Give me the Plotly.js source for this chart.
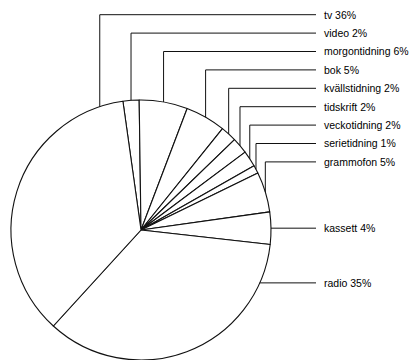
<!DOCTYPE html>
<html><head><meta charset="utf-8">
<script src="https://cdn.plot.ly/plotly-3.0.1.min.js"></script>
<style>html,body{margin:0;padding:0;background:#fff}#chart{width:411px;height:360px}</style>
</head><body><div id="chart"></div>
<script>
// ---- data ----
const categories = ['video', 'morgontidning', 'bok', 'kvällstidning', 'tidskrift', 'veckotidning', 'serietidning', 'grammofon', 'kassett', 'radio', 'tv'];
const shares = [2, 6, 5, 2, 2, 2, 1, 5, 4, 35, 36];
const topLabels = ['tv', 'video', 'morgontidning', 'bok', 'kvällstidning', 'tidskrift', 'veckotidning', 'serietidning', 'grammofon'];
const sideLabels = ['kassett', 'radio'];

// ---- layout geometry (pixels) ----
const W = 411, H = 360;
const R = 130, CX = 141, CY = H - R;
const ROT = -8;
const TOP_Y0 = 14.7, TOP_STEP = 18.4;
const LINE_END = 316, TEXT_X = 322;
const MIN_TOP_ANGLE = -18.5, MAX_SIDE_ANGLE = 114;

const total = shares.reduce((a, b) => a + b, 0);
const mids = {};
let a = ROT;
categories.forEach((c, i) => {
  const a1 = a + 360 * shares[i] / total;
  let m = (a + a1) / 2;
  while (m > 180) m -= 360;
  while (m <= -180) m += 360;
  mids[c] = m;
  a = a1;
});
const pt = deg => {
  const t = deg * Math.PI / 180;
  return [CX + R * Math.sin(t), CY - R * Math.cos(t)];
};
const px = x => x / W, py = y => 1 - y / H;
const shapes = [], annotations = [];
const lineStyle = {color: '#111111', width: 1};
const labelText = c => c + ' ' + shares[categories.indexOf(c)] + '%';

topLabels.forEach((c, i) => {
  const ang = Math.max(mids[c], MIN_TOP_ANGLE);
  const [x0, y0] = pt(ang);
  const ly = TOP_Y0 + i * TOP_STEP;
  shapes.push({type: 'line', xref: 'paper', yref: 'paper', x0: px(x0), y0: py(y0), x1: px(x0), y1: py(ly), line: lineStyle});
  shapes.push({type: 'line', xref: 'paper', yref: 'paper', x0: px(x0), y0: py(ly), x1: px(LINE_END), y1: py(ly), line: lineStyle});
  annotations.push({xref: 'paper', yref: 'paper', x: px(TEXT_X), y: py(ly), xanchor: 'left', yanchor: 'middle', text: labelText(c), showarrow: false});
});
sideLabels.forEach(c => {
  const ang = Math.min(mids[c], MAX_SIDE_ANGLE);
  const [x0, y0] = pt(ang);
  shapes.push({type: 'line', xref: 'paper', yref: 'paper', x0: px(x0), y0: py(y0), x1: px(LINE_END), y1: py(y0), line: lineStyle});
  annotations.push({xref: 'paper', yref: 'paper', x: px(TEXT_X), y: py(y0), xanchor: 'left', yanchor: 'middle', text: labelText(c), showarrow: false});
});

const trace = {
  type: 'pie',
  labels: categories,
  values: shares,
  sort: false,
  direction: 'clockwise',
  rotation: ROT,
  textinfo: 'none',
  textposition: 'none',
  hoverinfo: 'none',
  showlegend: false,
  automargin: false,
  marker: {colors: categories.map(() => '#ffffff'), line: {color: '#111111', width: 1.1}},
  domain: {x: [(CX - R) / W, (CX + R) / W], y: [0, (H - (CY - R)) / H]}
};

Plotly.newPlot('chart', [trace], {
  width: W, height: H,
  margin: {l: 0, r: 0, t: 0, b: 0},
  paper_bgcolor: '#ffffff',
  font: {family: '"Liberation Sans", Arial, sans-serif', size: 10.5, color: '#000000'},
  shapes: shapes,
  annotations: annotations
}, {staticPlot: true});
</script>
</body></html>
